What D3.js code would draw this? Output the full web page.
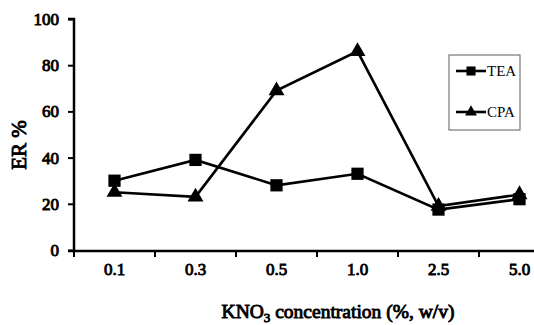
<!DOCTYPE html>
<html>
<head>
<meta charset="utf-8">
<script src="https://cdn.jsdelivr.net/npm/d3@7"></script>
<style>
  body { margin: 0; background: #fff; }
  svg text { font-family: "Liberation Serif", "Times New Roman", Times, serif !important; font-weight: normal; }
  svg text.b { stroke: #000; stroke-width: 0.9px; }
</style>
</head>
<body>
<div id="chart"></div>
<script>
const categories = ["0.1", "0.3", "0.5", "1.0", "2.5", "5.0"];
const teaValues = [30, 39, 28, 33, 17.5, 22];
const cpaValues = [25, 23, 69, 86, 19, 24];
const yTicks = [0, 20, 40, 60, 80, 100];

const width = 534, height = 325;
const svg = d3.select("#chart").append("svg")
  .attr("width", width).attr("height", height);

const x = d3.scaleBand().domain(categories).range([74, 560]);
const y = d3.scaleLinear().domain([0, 100]).range([250, 19]);

function serifBold(sel, size) {
  sel.attr("class", "b")
    .attr("font-size", size)
    .attr("fill", "#000")
    .style("font-family", "'Liberation Serif', serif")
    .style("font-weight", "normal")
    .style("stroke", "#000")
    .style("stroke-width", "0.9px");
}

// y axis
const yAxis = svg.append("g")
  .attr("transform", "translate(74,0)")
  .call(d3.axisLeft(y).tickValues(yTicks).tickSize(6).tickPadding(9));
yAxis.attr("font-family", null).attr("font-size", null);
yAxis.select(".domain").attr("stroke-width", 2.5).attr("d", "M-6," + y(100) + "H0V" + y(0));
yAxis.selectAll(".tick line").attr("stroke-width", 2);
serifBold(yAxis.selectAll(".tick text"), 17);

// x axis
const xAxis = svg.append("g")
  .attr("transform", "translate(0,251)")
  .call(d3.axisBottom(x).tickSize(0).tickPadding(12));
xAxis.attr("font-family", null).attr("font-size", null);
xAxis.select(".domain").attr("stroke-width", 2.5).attr("d", "M68,0H560");
serifBold(xAxis.selectAll(".tick text"), 17);
xAxis.selectAll(".bound")
  .data(categories)
  .enter().append("line")
  .attr("x1", d => x(d)).attr("x2", d => x(d))
  .attr("y1", 0).attr("y2", 6)
  .attr("stroke", "#000").attr("stroke-width", 2);

// axis titles
svg.append("text")
  .attr("transform", "translate(26,145) rotate(-90)")
  .attr("text-anchor", "middle")
  .call(serifBold, 21)
  .text("ER %");

const xt = svg.append("text")
  .attr("x", 338).attr("y", 318)
  .attr("text-anchor", "middle")
  .call(serifBold, 19.5);
xt.append("tspan").text("KNO");
xt.append("tspan").attr("font-size", 13).attr("dy", 4).text("3");
xt.append("tspan").attr("dy", -4).text(" concentration (%, w/v)");

const cx = d => x(d) + x.bandwidth() / 2;
const line = d3.line().x(d => cx(d.c)).y(d => y(d.v));

const series = [
  { name: "TEA", values: teaValues, shape: d3.symbolSquare, size: 150 },
  { name: "CPA", values: cpaValues, shape: d3.symbolTriangle, size: 110 }
];

series.forEach(s => {
  const pts = categories.map((c, i) => ({ c: c, v: s.values[i] }));
  svg.append("path").datum(pts)
    .attr("d", line)
    .attr("fill", "none").attr("stroke", "#000").attr("stroke-width", 2.6);
  svg.selectAll(null).data(pts).enter().append("path")
    .attr("d", d3.symbol().type(s.shape).size(s.size))
    .attr("transform", d => "translate(" + cx(d.c) + "," + y(d.v) + ")")
    .attr("fill", "#000");
});

// legend
const lg = svg.append("g");
lg.append("rect")
  .attr("x", 449).attr("y", 55).attr("width", 71).attr("height", 75)
  .attr("fill", "#fff").attr("stroke", "#777").attr("stroke-width", 1.2);
series.forEach((s, i) => {
  const ly = 71 + i * 41;
  lg.append("line").attr("x1", 456).attr("x2", 486).attr("y1", ly).attr("y2", ly)
    .attr("stroke", "#000").attr("stroke-width", 2.6);
  lg.append("path")
    .attr("d", d3.symbol().type(s.shape).size(s.size * 0.55))
    .attr("transform", "translate(471," + ly + ")")
    .attr("fill", "#000");
  lg.append("text").attr("x", 487).attr("y", ly + 5)
    .attr("font-size", 15)
    .text(s.name);
});
</script>
</body>
</html>
